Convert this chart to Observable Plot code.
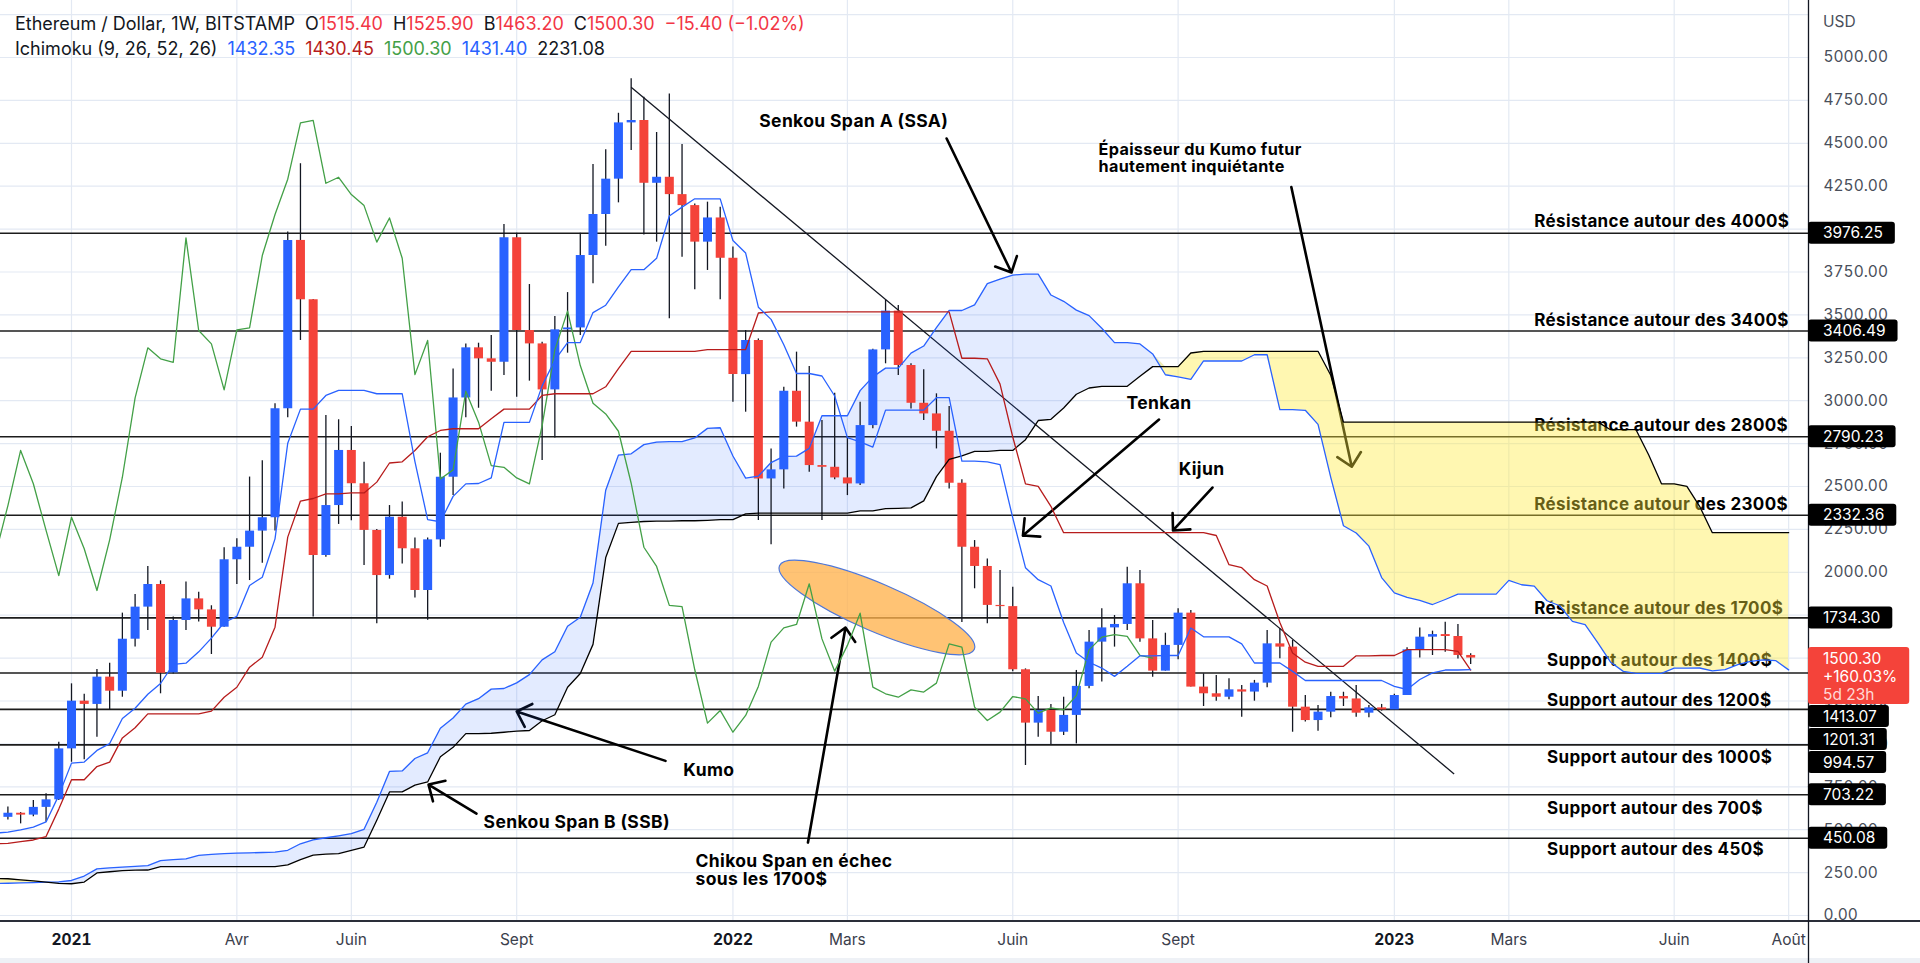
<!DOCTYPE html>
<html lang="fr">
<head>
<meta charset="utf-8">
<title>Ethereum / Dollar – Ichimoku</title>
<script src="https://cdn.jsdelivr.net/npm/d3@7"></script>
<script src="https://cdn.jsdelivr.net/npm/@observablehq/plot@0.6"></script>
<style>
  html, body { margin: 0; padding: 0; background: #ffffff; }
  #wrap { position: relative; width: 1920px; height: 963px; overflow: hidden; background: #ffffff; }
  #legend { position: absolute; left: 15px; top: 11px; font-family: Inter, "Noto Sans", sans-serif;
            font-size: 18px; line-height: 25px; color: #131722; white-space: pre; pointer-events: none; }
  #legend .sp { margin-left: 10px; }
  .red { color: #f23645; } .blue { color: #2962ff; } .dred { color: #b71c1c; } .green { color: #43a047; } .blk { color: #131722; }
</style>
</head>
<body>
<div id="wrap">
  <div id="chart"></div>
  <div id="legend"><div>Ethereum / Dollar, 1W, BITSTAMP<span class="sp">O</span><span class="red">1515.40</span><span class="sp">H</span><span class="red">1525.90</span><span class="sp">B</span><span class="red">1463.20</span><span class="sp">C</span><span class="red">1500.30</span><span class="sp red">−15.40 (−1.02%)</span></div><div>Ichimoku (9, 26, 52, 26)<span class="sp blue">1432.35</span><span class="sp dred">1430.45</span><span class="sp green">1500.30</span><span class="sp blue">1431.40</span><span class="sp blk">2231.08</span></div></div>
</div>
<script>
// ---------- time helpers: week index 0 = Monday 4 January 2021 ----------
const DAY = 864e5;
const WEEK0 = Date.UTC(2021, 0, 4);
const wk = k => new Date(WEEK0 + k * 7 * DAY);

// ---------- weekly candles, week -5 (30 Nov 2020) .. week 110 (13 Feb 2023) ----------
const candleStart = -5;
const open = [
  572,596,585,630,674,
  971,1249,1230,1389,1307, 1610,1797,1929,1414,1719, 1845,1781,1680,2073,2146, 2240,2318,2953,3934,3588,
  2098,2389,2710,2516,2244, 1981,2321,2137,1894,2189, 2554,3016,3308,3244,3224, 3949,3409,3331,3063,3413,
  3424,3846,4085,4291,4619, 4633,4267,4302,4201,4137, 3924,4065,3830,3152,3351, 2544,2597,3055,2875,2622,
  2612,2550,2515,2855,3296, 3522,3205,2985,2923,2822, 2519,2146,2034,1807,1800, 1432,1121,1195,1068,1166,
  1335,1593,1676,1696,1933, 1612,1424,1574,1762,1331, 1292,1272,1315,1302,1354, 1583,1564,1214,1136,1185,
  1276,1262,1179,1210,1198, 1282,1548,1622,1637,1626, 1515.4
];
const high = [
  632,600,670,709,1010,
  1350,1290,1434,1470,1762, 1871,2034,1950,1739,1943, 1884,1805,2143,2195,2555, 2650,2982,3983,4381,3590,
  2914,2889,2850,2642,2250, 2389,2409,2200,2200,2694, 3185,3331,3335,3380,4027, 3976,3677,3341,3490,3630,
  3976,4376,4462,4675,4876, 4769,4563,4788,4493,4147, 4157,4128,3895,3409,3360, 2719,3079,3283,3199,2884,
  3044,2787,2991,3300,3588, 3555,3215,3180,3040,2966, 2540,2185,2078,2010,1913, 1437,1276,1230,1272,1428,
  1661,1787,1748,2030,2010, 1719,1645,1787,1777,1408, 1399,1379,1340,1370,1661, 1671,1603,1282,1224,1301,
  1301,1340,1224,1230,1290, 1560,1676,1657,1709,1696, 1525.9
];
const low = [
  557,534,575,544,670,
  893,907,1039,1199,1272, 1564,1661,1292,1408,1661, 1710,1521,1680,1929,1952, 2053,2240,2900,3351,1739,
  2088,2279,2300,2040,1700, 1960,2049,1850,1720,2146, 2447,2900,2956,3055,3147, 3020,3114,2651,2783,3277,
  3380,3681,3900,4153,4458, 3966,3924,3477,3836,3646, 3759,3588,2991,2933,2302, 2160,2486,2846,2583,2302,
  2539,2447,2506,2836,3215, 3147,2952,2884,2719,2486, 1707,1904,1700,1729,1420, 874,1039,997,1049,1000,
  1321,1360,1564,1661,1593, 1389,1424,1490,1331,1218, 1249,1257,1156,1249,1327, 1496,1068,1127,1074,1152,
  1218,1156,1152,1191,1195, 1282,1501,1515,1534,1495, 1463.2
];
const close = [
  596,585,630,674,971,
  1249,1230,1389,1307,1610, 1797,1929,1412,1719,1845, 1781,1680,2073,2146,2240, 2318,2953,3934,3588,2098,
  2389,2710,2516,2244,1981, 2321,2137,1894,2189,2554, 3016,3308,3244,3224,3949, 3409,3331,3063,3413,3424,
  3846,4085,4291,4619,4633, 4267,4302,4201,4137,3924, 4065,3830,3152,3351,2544, 2597,3055,2875,2622,2612,
  2550,2515,2855,3296,3522, 3205,2985,2923,2822,2519, 2146,2034,1807,1800,1432, 1121,1195,1068,1166,1335,
  1593,1676,1696,1933,1612, 1424,1574,1762,1331,1292, 1272,1315,1302,1354,1583, 1564,1214,1136,1185,1276,
  1262,1179,1210,1198,1282, 1548,1622,1637,1626,1515.4, 1500.3
];

// ---------- Ichimoku lines, week -6 .. week 110 ----------
const lineStart = -6;
const tenkan = [
  480, 486,499,515,545,700,
  888,894,962,1002,1148, 1207.5,1289,1352,1463.5,1470.5, 1536.5,1616.5,1707.5,1743.5,1923.5,
  1971,2195,2752,2951,2951, 3030.5,3060,3060,3060,3040.5, 3040.5,3040.5,2645,2307,2294.5,
  2442.5,2515.5,2517.5,2550,2873.5, 2873.5,2873.5,3086.5,3237,3339, 3339,3513.5,3556.5,3663,3763.5,
  3763.5,3829.5,4076.5,4128,4176.5, 4176.5,4176.5,3933.5,3860.5,3545, 3474,3326.5,3158.5,3158.5,3144,
  3027.5,2784.5,2760,2730,2945, 2945,2945,2945,3017.5,3017.5, 2647.5,2647.5,2644,2627.5,2317.5,
  2027,1957,1920,1707,1529.5, 1476,1442,1393.5,1452,1513.5, 1513.5,1515,1515,1675.5,1624,
  1624,1624,1583,1471.5,1471.5, 1471.5,1422.5,1369.5,1369.5,1369.5, 1369.5,1369.5,1369.5,1369.5,1335.5,
  1317,1375,1414,1430.5,1430.5, 1432.35
];
const kijun = [
  418, 420,430,440,460,620,
  791,791,868,894,1035, 1094,1175,1175,1175,1175, 1175,1191,1272,1330,1447,
  1505,1680,2205,2415,2430, 2457.5,2457.5,2462.5,2462.5,2525.5, 2637,2644,2710,2790,2826.5,
  2836.5,2836.5,2836.5,2894.5,2951, 2951,2951,3030.5,3040.5,3040.5, 3040.5,3040.5,3081,3187.5,3288,
  3288,3288,3288,3288,3288, 3298,3298,3298,3298,3511, 3518,3518,3518,3518,3518,
  3518,3518,3518,3518,3518, 3518,3518,3518,3518,3518, 3247.5,3247.5,3244,3096.5,2788.5,
  2515.5,2501,2384.5,2231,2231, 2231,2231,2231,2231,2231, 2231,2231,2231,2231,2231,
  2214.5,2044.5,2027,1957,1920, 1707,1529.5,1476,1452,1452, 1452,1513.5,1513.5,1515,1515,
  1549,1549,1549,1549,1539, 1430.45
];
// Senkou spans as drawn (already projected forward), week -6 .. week 135
const cloudStart = -6;
const senkouA = [
  187, 188,190,192,194,196,
  204,230,272,278,282, 286,291,320,325,330, 350,356,360,363,365, 367,369,380,418,441,
  453,464.5,477.5,502.5,660, 839.5,842.5,915,948,1091.5, 1150.75,1232,1263.5,1319.25,1322.75,
  1355.75,1403.75,1489.75,1536.75,1685.25, 1738,1937.5,2478.5,2683,2690.5, 2744,2758.75,2761.25,2761.25,2783,
  2838.75,2842.25,2677.5,2548.5,2560.5, 2639.5,2676,2677,2722.25,2912.25, 2912.25,2912.25,3058.5,3138.75,3189.75,
  3189.75,3277,3318.75,3425.25,3525.75, 3525.75,3558.75,3682.25,3708,3732.25, 3737.25,3737.25,3615.75,3579.25,3528,
  3496,3422.25,3338.25,3338.25,3331, 3272.75,3151.25,3139,3124,3231.5, 3231.5,3231.5,3231.5,3267.75,3267.75,
  2947.5,2947.5,2944,2862,2553, 2271.25,2229,2152.25,1969,1880.25, 1853.5,1836.5,1812.25,1841.5,1872.25,
  1872.25,1873,1873,1953.25,1927.5, 1919.25,1834.25,1805,1714.25,1695.75, 1589.25,1476,1422.75,1410.75,1410.75,
  1410.75,1441.5,1441.5,1442.25,1425.25, 1433,1462,1481.5,1489.75,1484.75, 1431.4
];
const senkouB = [
  216, 214,208,202,195,187,
  185,195,248,255,262, 264,265,285,285,285, 285,285,285,285,285, 285,285,295,325,352,
  358,360,380,399,555, 720,720,760,778,925, 980,1060,1060,1062,1068, 1075,1078,1135,1170,1330,
  1410,1580,2086,2285,2291, 2296,2298.5,2298.5,2300.5,2300.5, 2303,2306.5,2306.5,2340.5,2344.5,
  2344.5,2344.5,2344.5,2344.5,2344.5, 2344.5,2344.5,2358,2358,2370.5, 2373,2375.5,2416,2557.5,2658,
  2678,2705,2705,2710,2710, 2773,2884.5,2891.5,2957.5,3037.5, 3074,3084,3084,3084,3142,
  3198.5,3198.5,3198.5,3278,3288, 3288,3288,3288,3288,3288, 3288,3288,3288,3288,3148,
  2875,2875,2875,2875,2875, 2875,2875,2875,2875,2875, 2875,2875,2875,2875,2875, 2875,2875,2875,2875,2875,
  2875,2831,2831,2831,2683.5, 2515.5,2515.5,2501,2384.5,2231, 2231,2231,2231,2231,2231, 2231.08
];
const chikouOffset = -25; // lagging span = close drawn 25 weeks back

// ---------- horizontal levels and their notes ----------
const levels = [3976.25, 3406.49, 2790.23, 2332.36, 1734.30, 1413.07, 1201.31, 994.57, 703.22, 450.08];
const levelText = [
  "Résistance autour des 4000$", "Résistance autour des 3400$", "Résistance autour des 2800$",
  "Résistance autour des 2300$", "Résistance autour des 1700$", "Support autour des 1400$",
  "Support autour des 1200$", "Support autour des 1000$", "Support autour des 700$", "Support autour des 450$"
];
const levelTextWeek = [115, 115, 115, 115, 115, 116, 116, 116, 116, 116];
const levelTextDy = [-12, -10, -11, -11, -9, -12, -9, 13, 14, 11];

const lastPrice = 1500.30, lastChange = "+160.03%", countdown = "5d 23h";

// ---------- drawings (week index, price) ----------
const trend = {k1: 44, p1: 4827, k2: 108.7, p2: 825};
const arrows = [
  {k1: 68.8, p1: 4528, k2: 73.9, p2: 3747},   // SSA
  {k1: 85.5, p1: 2890, k2: 74.8, p2: 2214},   // Tenkan
  {k1: 89.7, p1: 2494, k2: 86.6, p2: 2244},   // Kijun
  {k1: 95.9, p1: 4245, k2: 100.65, p2: 2615}, // Kumo futur
  {k1: 46.7, p1: 901, k2: 35.0, p2: 1189},    // Kumo
  {k1: 31.84, p1: 594, k2: 28.07, p2: 763},   // SSB
  {k1: 57.9, p1: 425, k2: 60.85, p2: 1678}    // Chikou
];
const notesMiddle = [
  {t: "Senkou Span A (SSA)", k: 61.5, p: 4627},
  {t: "Tenkan", k: 85.5, p: 2984},
  {t: "Kijun", k: 88.84, p: 2599}
];
const notesStart = [
  {t: "Kumo", k: 48.1, p: 845},
  {t: "Senkou Span B (SSB)", k: 32.4, p: 542},
  {t: "Chikou Span en échec", k: 49.06, p: 315},
  {t: "sous les 1700$", k: 49.06, p: 210}
];
const notesSmall = [
  {t: "Épaisseur du Kumo futur", k: 80.74, p: 4464},
  {t: "hautement inquiétante", k: 80.74, p: 4365}
];
const ellipseNote = {k: 63.36, p: 1792};

// ---------- axes ----------
const monthTicks = [["2021-04-05","Avr"],["2021-06-07","Juin"],["2021-09-06","Sept"],["2022-03-07","Mars"],
  ["2022-06-06","Juin"],["2022-09-05","Sept"],["2023-03-06","Mars"],["2023-06-05","Juin"],["2023-08-07","Août"]];
const yearTicks = [["2021-01-04","2021"],["2022-01-03","2022"],["2023-01-02","2023"]];
const priceTicks = [0,250,500,750,1000,1250,1500,1750,2000,2250,2500,2750,3000,3250,3500,3750,4000,4250,4500,4750,5000];
const gridPrices = [...priceTicks, 5250];

// ---------- build ----------
const W = 1920, H = 963, mR = 112, mB = 42;
const tickLabel = new Map([...monthTicks, ...yearTicks].map(([d, t]) => [+new Date(d), t]));
const monthDates = monthTicks.map(([d]) => new Date(d));
const yearDates = yearTicks.map(([d]) => new Date(d));

const candles = open.map((o, i) => ({date: wk(candleStart + i), o, h: high[i], l: low[i], c: close[i]}));
const upC = candles.filter(d => d.c >= d.o), downC = candles.filter(d => d.c < d.o);
const tenkanPts = tenkan.map((v, i) => ({date: wk(lineStart + i), v}));
const kijunPts = kijun.map((v, i) => ({date: wk(lineStart + i), v}));
const cloud = senkouA.map((a, i) => ({date: wk(cloudStart + i), a, b: senkouB[i]}));
const chikou = close.map((v, i) => ({date: wk(candleStart + i + chikouOffset), v}));
const levelRows = levels.map((v, i) => ({v, t: levelText[i], k: levelTextWeek[i], dy: levelTextDy[i]}));

const FONT = "Inter, 'Noto Sans', sans-serif";
const noteStyle = {fontSize: 17, fontWeight: "bold", fill: "#000"};

const chart = Plot.plot({
  width: W, height: H,
  marginLeft: 0, marginRight: mR, marginTop: 0, marginBottom: mB,
  x: {type: "utc", domain: [wk(-5.582), wk(136.56)]},
  y: {domain: [-35, 5332.2]},
  style: {fontFamily: FONT, background: "#ffffff", color: "#131722"},
  marks: [
    Plot.gridX([...yearDates, ...monthDates], {stroke: "#e3e9f3", strokeOpacity: 1, strokeWidth: 1.2}),
    Plot.gridY(gridPrices, {stroke: "#e3e9f3", strokeOpacity: 1, strokeWidth: 1.2}),
    Plot.ruleY(levels, {stroke: "#1c1c1c", strokeWidth: 1.6}),
    ...levelRows.map(r => Plot.text([r], {x: d => wk(d.k), y: "v", text: "t", dy: r.dy, textAnchor: "start", ...noteStyle})),
    Plot.link([trend], {x1: d => wk(d.k1), y1: "p1", x2: d => wk(d.k2), y2: "p2", stroke: "#131722", strokeWidth: 1.3}),
    Plot.arrow(arrows, {x1: d => wk(d.k1), y1: "p1", x2: d => wk(d.k2), y2: "p2", stroke: "#000", strokeWidth: 2.6, headAngle: 88, headLength: 10}),
    Plot.text(notesMiddle, {x: d => wk(d.k), y: "p", text: "t", textAnchor: "middle", ...noteStyle, fontSize: 17.5}),
    Plot.text(notesStart, {x: d => wk(d.k), y: "p", text: "t", textAnchor: "start", ...noteStyle, fontSize: 17.5}),
    Plot.text(notesSmall, {x: d => wk(d.k), y: "p", text: "t", textAnchor: "start", ...noteStyle, fontSize: 16.2}),
    Plot.areaY(cloud, {x: "date", y1: "b", y2: d => Math.max(d.a, d.b), fill: "#2962ff", fillOpacity: 0.13, clip: true}),
    Plot.areaY(cloud, {x: "date", y1: "a", y2: d => Math.max(d.a, d.b), fill: "#ffeb3b", fillOpacity: 0.4, clip: true}),
    Plot.ruleX(candles, {x: "date", y1: "l", y2: "h", stroke: "#131722", strokeWidth: 1.3}),
    Plot.ruleX(upC, {x: "date", y1: "o", y2: "c", stroke: "#2962ff", strokeWidth: 9}),
    Plot.ruleX(downC, {x: "date", y1: "o", y2: "c", stroke: "#f4433a", strokeWidth: 9}),
    Plot.lineY(cloud, {x: "date", y: "a", stroke: "#2962ff", strokeWidth: 1.3, clip: true}),
    Plot.lineY(cloud, {x: "date", y: "b", stroke: "#000000", strokeWidth: 1.3, clip: true}),
    Plot.lineY(chikou, {x: "date", y: "v", stroke: "#43a047", strokeWidth: 1.3, clip: true}),
    Plot.lineY(kijunPts, {x: "date", y: "v", stroke: "#b71c1c", strokeWidth: 1.3, clip: true}),
    Plot.lineY(tenkanPts, {x: "date", y: "v", stroke: "#2962ff", strokeWidth: 1.3, clip: true}),
    Plot.axisX(monthDates, {tickFormat: d => tickLabel.get(+d), tickSize: 0, tickPadding: 12, fontSize: 15.5, color: "#3b404c", label: null}),
    Plot.axisX(yearDates, {tickFormat: d => tickLabel.get(+d), tickSize: 0, tickPadding: 12, fontSize: 15.5, fontWeight: "bold", color: "#131722", label: null}),
    Plot.axisY(priceTicks, {anchor: "right", tickSize: 0, tickPadding: 15, tickFormat: d => d.toFixed(2), fontSize: 15.5, color: "#4a4f5b", label: null})
  ]
});
document.getElementById("chart").appendChild(chart);

// ---------- overlay pieces positioned with the plot's own scales ----------
const NS = "http://www.w3.org/2000/svg";
const root = d3.select(chart);
const xs = chart.scale("x"), ys = chart.scale("y");
const X = d => xs.apply(d), Y = v => ys.apply(v);
const frameR = W - mR, frameB = H - mB;

root.selectAll('g[aria-label="text"] text').attr("letter-spacing", "0.35px");

// orange ellipse under the cloud and the series
const firstArea = chart.querySelector('g[aria-label="area"]');
const ell = document.createElementNS(NS, "ellipse");
const ecx = X(wk(ellipseNote.k)), ecy = Y(ellipseNote.p);
ell.setAttribute("cx", ecx); ell.setAttribute("cy", ecy);
ell.setAttribute("rx", 106); ell.setAttribute("ry", 24);
ell.setAttribute("transform", `rotate(23.2 ${ecx} ${ecy})`);
ell.setAttribute("fill", "#ffb24d"); ell.setAttribute("fill-opacity", 0.78);
ell.setAttribute("stroke", "#4f77d8"); ell.setAttribute("stroke-width", 1.2);
firstArea.parentNode.insertBefore(ell, firstArea);

// axis frame lines
root.append("rect").attr("x", 0).attr("y", H - 5).attr("width", W).attr("height", 5).attr("fill", "#eef1f6");
root.append("line").attr("x1", 0).attr("x2", W).attr("y1", frameB).attr("y2", frameB).attr("stroke", "#2a2e39").attr("stroke-width", 2);
root.append("line").attr("x1", frameR + 0.5).attr("x2", frameR + 0.5).attr("y1", 0).attr("y2", H).attr("stroke", "#131722").attr("stroke-width", 1.3);
root.append("text").text("USD").attr("x", frameR + 15).attr("y", 21).attr("dominant-baseline", "central")
  .attr("text-anchor", "start").attr("font-family", FONT).attr("font-size", 15.5).attr("fill", "#4a4f5b");

// price-scale labels (stacked so they do not overlap)
const boxes = levels.map(v => ({v, lines: [v.toFixed(2)], h: 22, fill: "#000000"}));
boxes.push({v: lastPrice, lines: [lastPrice.toFixed(2), lastChange, countdown], h: 57, fill: "#f4433a", last: true});
boxes.sort((a, b) => b.v - a.v);
let prevBottom = -Infinity;
for (const b of boxes) {
  let top = b.last ? Y(b.v) - 10.5 : Y(b.v) - b.h / 2;
  if (top < prevBottom + 1) top = prevBottom + 1;
  b.top = top; prevBottom = top + b.h;
}
for (const b of boxes) {
  const g = root.append("g").attr("text-anchor", "start");
  const rect = g.append("rect").attr("x", frameR).attr("y", b.top).attr("height", b.h).attr("rx", 3).attr("fill", b.fill);
  let maxW = 0;
  b.lines.forEach((t, j) => {
    const tx = g.append("text").text(t).attr("x", frameR + 15).attr("y", b.top + 11 + j * 18)
      .attr("text-anchor", "start").attr("dominant-baseline", "central").attr("font-family", FONT).attr("font-size", 15.5)
      .attr("fill", j === 2 ? "#ffd9d6" : "#ffffff");
    maxW = Math.max(maxW, tx.node().getComputedTextLength());
  });
  rect.attr("width", maxW + 27);
}
</script>
</body>
</html>
